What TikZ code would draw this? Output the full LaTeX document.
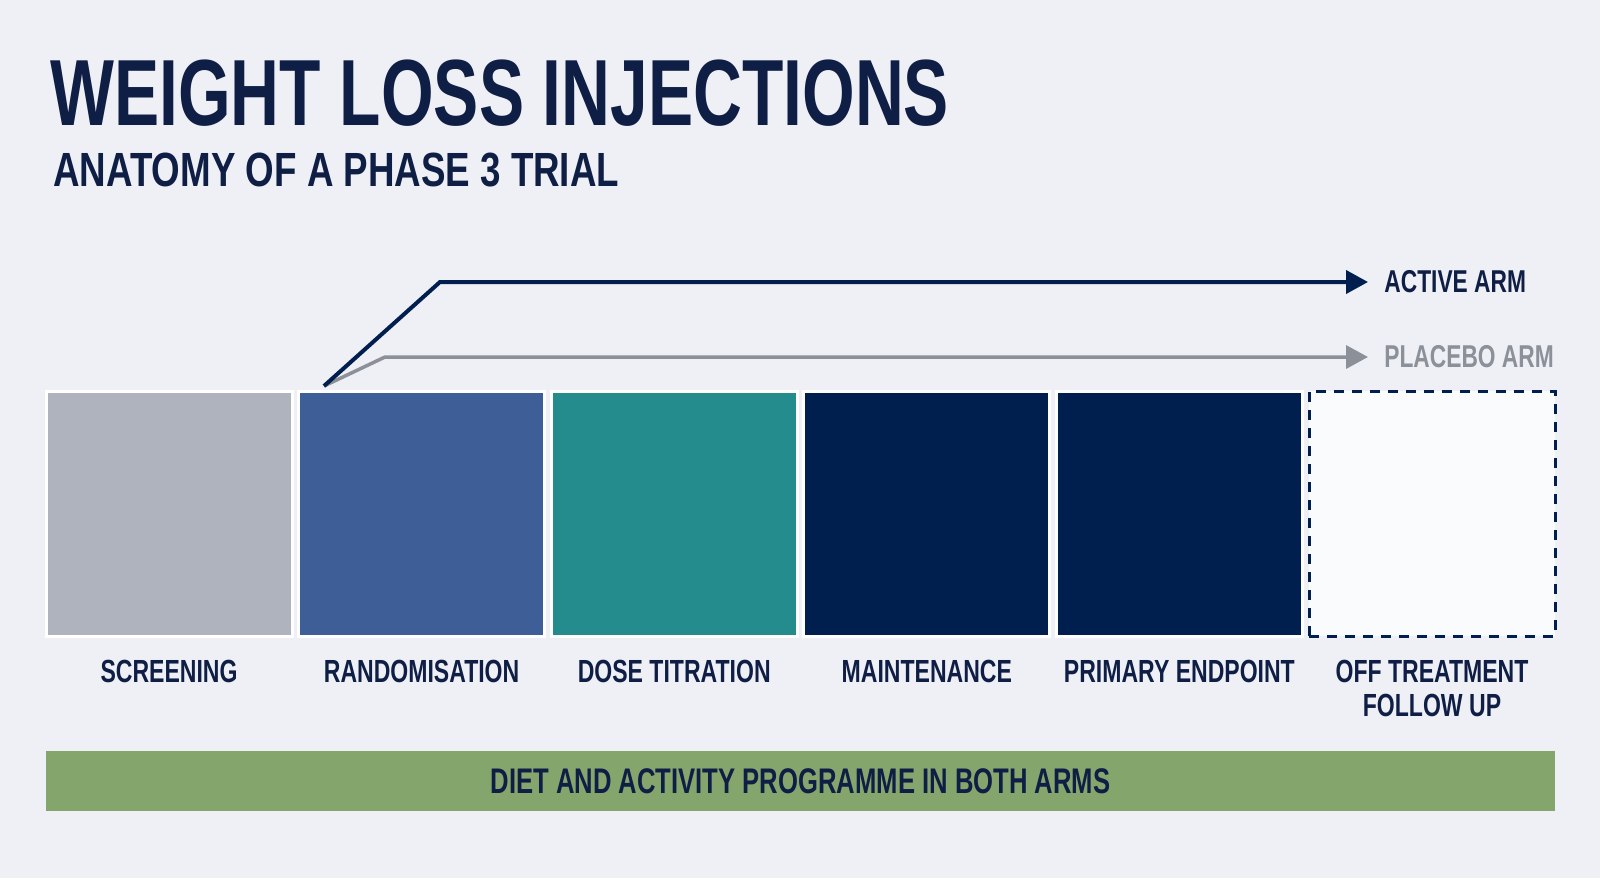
\documentclass[tikz,border=0pt]{standalone}
\usepackage{fontspec}
\setmainfont{Liberation Sans}[FakeStretch=0.72]
\newfontfamily\subfont{Liberation Sans}[FakeStretch=0.765]
\usetikzlibrary{arrows.meta, positioning}
\definecolor{bgcol}{HTML}{EFF0F6}
\definecolor{navytext}{HTML}{0F1E45}
\definecolor{navybox}{HTML}{001F4E}
\definecolor{scrgrey}{HTML}{AEB3BE}
\definecolor{randblue}{HTML}{3D5E97}
\definecolor{titrteal}{HTML}{258C8E}
\definecolor{offwhite}{HTML}{FAFBFD}
\definecolor{dietgreen}{HTML}{84A66D}
\definecolor{placebogrey}{HTML}{8B9099}

\begin{document}
\begin{tikzpicture}[x=0.5pt,y=-0.5pt]
\tikzstyle{stage}=[rectangle, draw=white, line width=1.5pt, inner sep=0pt,
                        minimum width=123pt, minimum height=122.5pt]
\tikzstyle{lbl}=[inner sep=0pt, text=navytext, align=center,
                        font=\bfseries\fontsize{16}{17}\selectfont]
\tikzstyle{arm}=[inner sep=0pt, anchor=west, font=\bfseries\fontsize{15.8}{17}\selectfont]
\tikzstyle{armtip}=[-{Triangle[length=11pt,width=11.5pt]}]
\useasboundingbox (0,0) rectangle (1600,878);
\fill[bgcol] (0,0) rectangle (1600,878);
	\node[anchor=base west, inner sep=0pt, text=navytext,
	      font=\bfseries\fontsize{47}{50}\selectfont] (title) at (50,125.5){WEIGHT LOSS INJECTIONS};
	\node[anchor=base west, inner sep=0pt, text=navytext,
	      font=\subfont\bfseries\fontsize{24}{26}\selectfont] (subtitle) at (53,186){ANATOMY OF A PHASE 3 TRIAL};
	\node[stage, fill=scrgrey] (scr) at (169,513.5){};
	\node[stage, fill=randblue] (rand) at (421.6,513.5){};
	\node[stage, fill=titrteal] (titr) at (674.2,513.5){};
	\node[stage, fill=navybox] (maint) at (926.8,513.5){};
	\node[stage, fill=navybox] (prim) at (1179.4,513.5){};
	\node[stage, draw=navybox, dash pattern=on 5pt off 4pt, fill=offwhite] (off) at (1432,513.5){};
	\node[lbl, below=11pt of scr] (scrlab){SCREENING};
	\node[lbl, below=11pt of rand] (randlab){RANDOMISATION};
	\node[lbl, below=11pt of titr] (titrlab){DOSE TITRATION};
	\node[lbl, below=11pt of maint] (maintlab){MAINTENANCE};
	\node[lbl, below=11pt of prim] (primlab){PRIMARY ENDPOINT};
	\node[lbl, below=11pt of off] (offlab){OFF TREATMENT\\FOLLOW UP};
	\coordinate (split) at (324,386);
	\node[arm, text=navytext] (active) at (1384,282){ACTIVE ARM};
	\node[arm, text=placebogrey] (placebo) at (1384,357){PLACEBO ARM};
\draw[armtip, placebogrey, line width=1.75pt] (split)--(385,357)--([xshift=-8pt]placebo.west);
\draw[armtip, navybox, line width=2pt] (split)--(440,282)--([xshift=-8pt]active.west);
	\node[fill=dietgreen, minimum width=754.5pt, minimum height=30pt, inner sep=0pt, text=navytext,
	      font=\bfseries\fontsize{17.8}{19}\selectfont] (diet) at (800.5,781){DIET AND ACTIVITY PROGRAMME IN BOTH ARMS};
\end{tikzpicture}
\end{document}
